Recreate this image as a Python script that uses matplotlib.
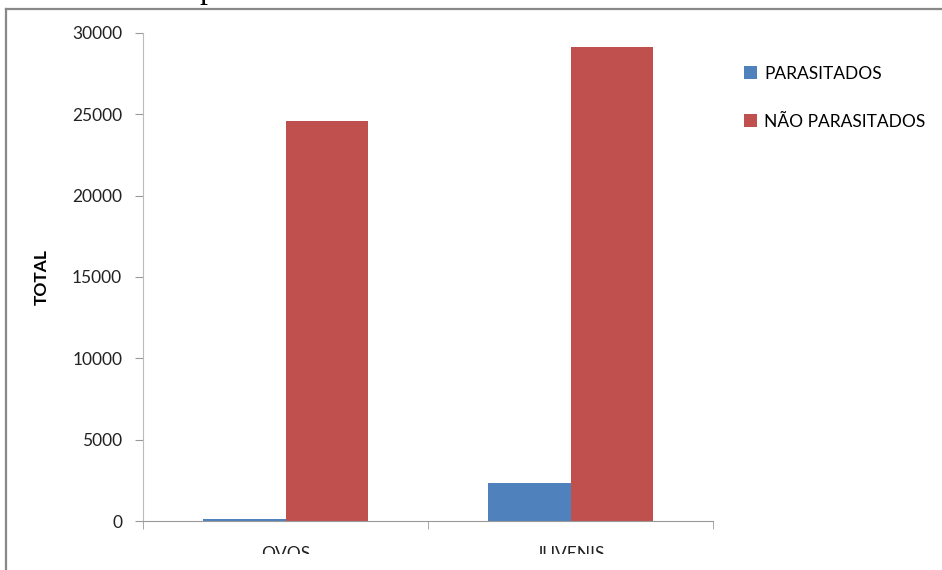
import matplotlib
matplotlib.use("Agg")
import matplotlib.pyplot as plt
from matplotlib.patches import Rectangle
from matplotlib.lines import Line2D
import numpy as np

categories = ["OVOS", "JUVENIS"]
parasitados = [120, 2350]
nao_parasitados = [24600, 29150]
series_names = ["PARASITADOS", "NÃO PARASITADOS"]
yticks = [0, 5000, 10000, 15000, 20000, 25000, 30000]

plt.rcParams["font.family"] = ["Lato", "DejaVu Sans"]

W, H = 942, 570
fig = plt.figure(figsize=(W / 100, H / 100), dpi=100)
ax = fig.add_axes([143 / W, 1 - 521 / H, (713 - 143) / W, (521 - 33) / H])

x = np.arange(len(categories))
bw = 0.288
ax.bar(x - bw / 2, parasitados, bw, color="#4F81BD", label=series_names[0])
ax.bar(x + bw / 2, nao_parasitados, bw, color="#C0504D", label=series_names[1])

ax.set_xlim(-0.5, len(categories) - 0.5)
ax.set_ylim(0, 30000)
ax.set_yticks(yticks)
ax.set_yticklabels([str(v) for v in yticks], fontsize=12.5, color="#222222")
ax.set_xticks(x)
ax.set_xticklabels(categories, fontsize=12.5, color="#222222")
ax.set_xticks(np.arange(len(categories) + 1) - 0.5, minor=True)
ax.tick_params(axis="x", which="major", length=0, pad=18)
ax.tick_params(axis="x", which="minor", length=6, color="#999999", direction="out")
ax.tick_params(axis="y", length=6, color="#999999", direction="out", pad=9)

for s in ["top", "right"]:
    ax.spines[s].set_visible(False)
ax.spines["left"].set_color("#bbbbbb")
ax.spines["bottom"].set_color("#999999")

ax.set_ylabel("TOTAL", fontsize=12.5, fontweight="bold")
ax.yaxis.set_label_coords(-(143 - 50) / (713 - 143), 0.5)

leg = fig.legend(loc="upper left", bbox_to_anchor=(728 / W, 1 - 50 / H),
                 frameon=False, fontsize=12.5, handlelength=0.75,
                 handleheight=0.75, handletextpad=0.45, labelspacing=1.85)

# caption of the page, only its lower edge shows
fig.text(200 / W, 1 + 2 / H, "parasitadas da Classe I a Classe IV",
         family="Liberation Serif", fontsize=23, va="baseline", ha="left")

# chart area clipped at bottom
fig.patches.append(Rectangle((9 / W, 0), 1, 16 / H, transform=fig.transFigure,
                             facecolor="white", edgecolor="none", zorder=10))

# chart frame
fig.lines.append(Line2D([5.5 / W, 5.5 / W], [0, 1 - 9 / H], transform=fig.transFigure,
                        color="#888888", lw=1.6, zorder=11))
fig.lines.append(Line2D([5.5 / W, 1], [1 - 9 / H, 1 - 9 / H], transform=fig.transFigure,
                        color="#888888", lw=1.6, zorder=11))

fig.savefig("out.png", dpi=100)
